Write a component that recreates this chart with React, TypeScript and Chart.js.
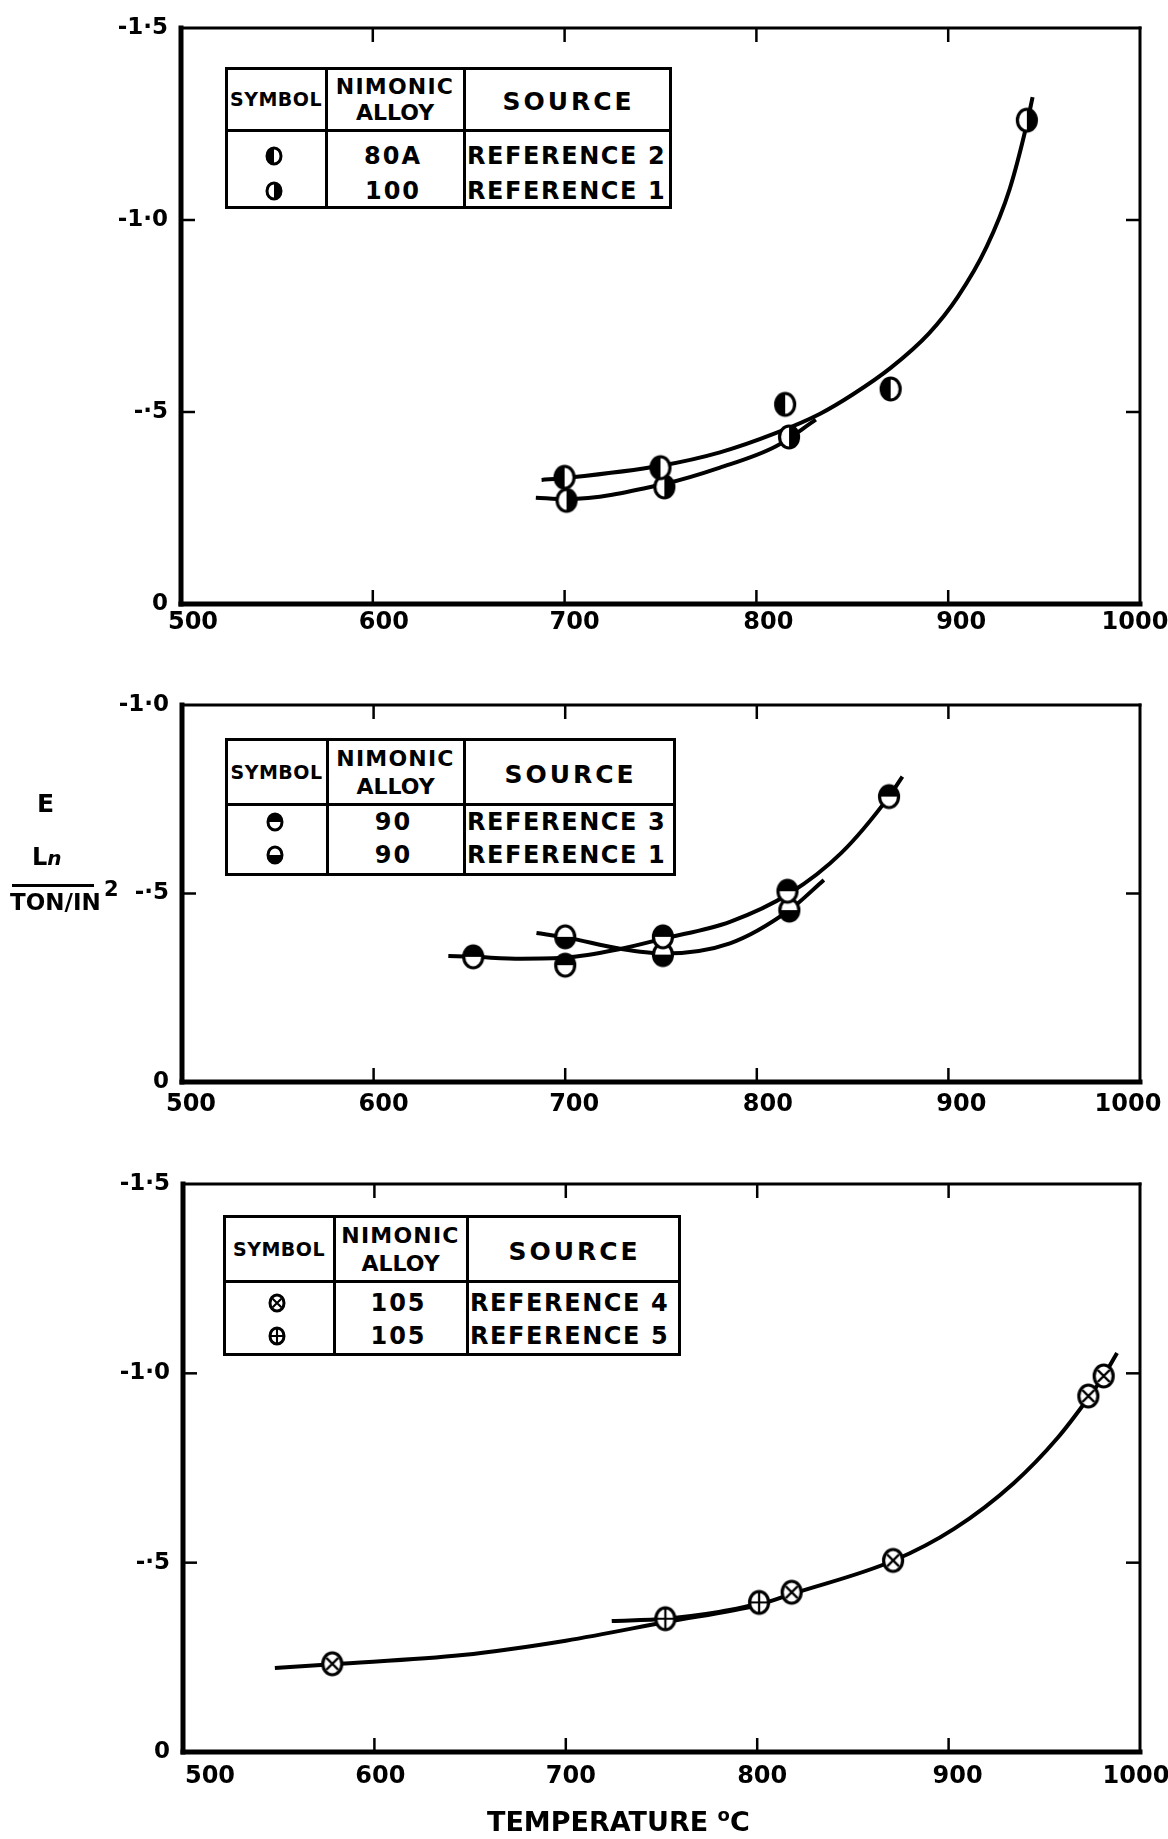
import React, { useEffect, useMemo, useRef } from 'react';
import { Chart, registerables } from 'chart.js';

Chart.register(...registerables);

const FONT = "'DejaVu Sans', 'Liberation Sans', sans-serif";

// ---------- shared axis values ----------
const xTickValues = [500, 600, 700, 800, 900, 1000];
const xTickLabels = ['500', '600', '700', '800', '900', '1000'];
const yTicks15 = [-1.5, -1.0, -0.5, 0];
const yLabels15 = ['-1·5', '-1·0', '-·5', '0'];
const yTicks10 = [-1.0, -0.5, 0];
const yLabels10 = ['-1·0', '-·5', '0'];

// ---------- panel 1 : Nimonic 80A / 100 ----------
const p1Ref2T = [700, 750, 815, 870];
const p1Ref2V = [-0.33, -0.355, -0.52, -0.56];
const p1Ref1T = [701, 752, 817, 941];
const p1Ref1V = [-0.27, -0.305, -0.435, -1.26];
const p1CurveAT = [688, 700, 750, 781, 810, 833, 850, 870, 890, 905, 920, 932, 941, 944];
const p1CurveAV = [-0.323, -0.328, -0.36, -0.395, -0.445, -0.495, -0.545, -0.615, -0.705, -0.8, -0.93, -1.08, -1.25, -1.32];
const p1CurveBT = [685, 701, 753, 781, 810, 831];
const p1CurveBV = [-0.277, -0.273, -0.314, -0.355, -0.41, -0.48];

// ---------- panel 2 : Nimonic 90 ----------
const p2Ref3T = [652, 700, 751, 816, 869];
const p2Ref3V = [-0.332, -0.31, -0.385, -0.506, -0.757];
const p2Ref1T = [700, 751, 817];
const p2Ref1V = [-0.385, -0.338, -0.456];
const p2CurveAT = [639, 652, 677, 701, 728, 751, 786, 817, 844, 869, 876];
const p2CurveAV = [-0.334, -0.332, -0.327, -0.33, -0.352, -0.38, -0.425, -0.5, -0.607, -0.757, -0.81];
const p2CurveBT = [685, 701, 728, 751, 786, 817, 835];
const p2CurveBV = [-0.395, -0.383, -0.354, -0.341, -0.368, -0.456, -0.536];

// ---------- panel 3 : Nimonic 105 ----------
const p3Ref4T = [578, 818, 871, 973, 981];
const p3Ref4V = [-0.233, -0.422, -0.506, -0.94, -0.993];
const p3Ref5T = [752, 801];
const p3Ref5V = [-0.352, -0.395];
const p3CurveAT = [548, 578, 646, 700, 753, 801, 818, 871, 903, 934, 957, 973, 981, 988];
const p3CurveAV = [-0.222, -0.232, -0.256, -0.294, -0.344, -0.389, -0.417, -0.505, -0.59, -0.71, -0.83, -0.935, -0.993, -1.054];
const p3CurveBT = [724, 752, 780, 800];
const p3CurveBV = [-0.346, -0.352, -0.37, -0.39];

// ---------- legend texts ----------
const legendHeader = ['SYMBOL', 'NIMONIC', 'ALLOY', 'SOURCE'];
const p1Alloys = ['80A', '100'];
const p1Sources = ['REFERENCE 2', 'REFERENCE 1'];
const p2Alloys = ['90', '90'];
const p2Sources = ['REFERENCE 3', 'REFERENCE 1'];
const p3Alloys = ['105', '105'];
const p3Sources = ['REFERENCE 4', 'REFERENCE 5'];

const xTitle = 'TEMPERATURE';
const yTitleTop = 'E';
const yTitleMid = 'Ln';
const yTitleBottom = 'TON/IN';

function pts(t: number[], v: number[]) {
  return t.map((x, i) => ({ x, y: v[i] }));
}

function makeSymbol(kind: string, size = 28, rx = 9.5, ry = 11, lw = 3.2): HTMLCanvasElement {
  const c = document.createElement('canvas');
  c.width = size;
  c.height = size;
  const g = c.getContext('2d')!;
  const cx = size / 2;
  const cy = size / 2;
  g.fillStyle = '#fff';
  g.beginPath();
  g.ellipse(cx, cy, rx, ry, 0, 0, Math.PI * 2);
  g.fill();
  g.fillStyle = '#000';
  const half = (a0: number, a1: number) => {
    g.beginPath();
    g.ellipse(cx, cy, rx, ry, 0, a0, a1);
    g.closePath();
    g.fill();
  };
  if (kind === 'left') half(Math.PI / 2, Math.PI * 1.5);
  if (kind === 'right') half(-Math.PI / 2, Math.PI / 2);
  if (kind === 'top') half(Math.PI, Math.PI * 2);
  if (kind === 'bottom') half(0, Math.PI);
  g.strokeStyle = '#000';
  g.lineWidth = lw;
  g.beginPath();
  g.ellipse(cx, cy, rx, ry, 0, 0, Math.PI * 2);
  g.stroke();
  g.lineWidth = Math.max(1.8, lw * 0.7);
  if (kind === 'cross') {
    const d = rx * 0.62;
    g.beginPath();
    g.moveTo(cx - d, cy - d);
    g.lineTo(cx + d, cy + d);
    g.moveTo(cx + d, cy - d);
    g.lineTo(cx - d, cy + d);
    g.stroke();
  }
  if (kind === 'plus') {
    g.beginPath();
    g.moveTo(cx - rx, cy);
    g.lineTo(cx + rx, cy);
    g.moveTo(cx, cy - ry);
    g.lineTo(cx, cy + ry);
    g.stroke();
  }
  return c;
}

const framePlugin = {
  id: 'frame',
  afterDraw(chart: any) {
    const { ctx, chartArea } = chart;
    const { left, right, top, bottom } = chartArea;
    const xs = chart.scales.x;
    const ys = chart.scales.y;
    const cfg = chart.options.plugins.frame || {};
    const line = (x1: number, y1: number, x2: number, y2: number) => {
      ctx.beginPath();
      ctx.moveTo(x1, y1);
      ctx.lineTo(x2, y2);
      ctx.stroke();
    };
    ctx.save();
    ctx.strokeStyle = '#000';
    ctx.lineCap = 'butt';
    ctx.lineWidth = 2.5;
    const L = 14;
    xs.ticks.forEach((t: any) => {
      const px = xs.getPixelForValue(t.value);
      if (px <= left + 2 || px >= right - 2) return;
      line(px, bottom, px, bottom - L);
      line(px, top, px, top + L);
    });
    ys.ticks.forEach((t: any) => {
      const py = ys.getPixelForValue(t.value);
      if (py <= top + 2 || py >= bottom - 2) return;
      line(left, py, left + L, py);
      line(right, py, right - L, py);
    });
    ctx.lineCap = 'square';
    ctx.lineWidth = 3;
    line(left, top, right, top);
    line(right, top, right, bottom);
    ctx.lineWidth = 5;
    line(left, top, left, bottom);
    line(left, bottom, right, bottom);

    // x tick labels (drawn from the x scale, nudged like the hand lettering)
    ctx.fillStyle = '#000';
    ctx.font = `bold 24px ${FONT}`;
    ctx.textAlign = 'center';
    ctx.textBaseline = 'middle';
    const shifts: number[] = cfg.labelShift || [];
    xTickValues.forEach((v, i) => {
      const px = xs.getPixelForValue(v) + (shifts[i] || 0);
      ctx.fillText(xTickLabels[i], px, bottom + (cfg.labelDy || 20));
    });
    ctx.restore();
  },
};

type PanelProps = {
  top: number;
  height: number;
  padTop: number;
  xAxisH: number;
  yAxisW: number;
  yMin: number;
  yTicks: number[];
  yLabels: string[];
  labelShift: number[];
  labelDy: number;
  build: () => any[];
};

function PanelChart(props: PanelProps) {
  const ref = useRef<HTMLCanvasElement>(null);
  useEffect(() => {
    const { padTop, xAxisH, yAxisW, yMin, yTicks, yLabels, build, labelShift, labelDy } = props;
    const chart = new Chart(ref.current!, {
      type: 'scatter',
      data: { datasets: build() },
      options: {
        animation: false,
        responsive: false,
        devicePixelRatio: 1,
        layout: { padding: { top: padTop, right: 28, bottom: 0, left: 0 } },
        plugins: {
          legend: { display: false },
          tooltip: { enabled: false },
          frame: { labelShift, labelDy },
        },
        scales: {
          x: {
            type: 'linear',
            min: 500,
            max: 1000,
            afterBuildTicks: (s: any) => {
              s.ticks = xTickValues.map((value) => ({ value }));
            },
            ticks: { display: false },
            grid: { display: false, drawTicks: false },
            border: { display: false },
            afterFit: (s: any) => {
              s.height = xAxisH;
              s.paddingLeft = 0;
              s.paddingRight = 0;
            },
          },
          y: {
            type: 'linear',
            min: yMin,
            max: 0,
            reverse: true,
            afterBuildTicks: (s: any) => {
              s.ticks = yTicks.map((value) => ({ value }));
            },
            ticks: {
              color: '#000',
              font: { family: FONT, size: 23, weight: 'bold' },
              padding: 13,
              autoSkip: false,
              callback: (_v: any, i: number) => yLabels[i],
            },
            grid: { display: false, drawTicks: false },
            border: { display: false },
            afterFit: (s: any) => {
              s.width = yAxisW;
              s.paddingTop = 0;
              s.paddingBottom = 0;
            },
          },
        },
      },
      plugins: [framePlugin],
    } as any);
    return () => chart.destroy();
  }, []);
  return (
    <canvas
      ref={ref}
      width={1168}
      height={props.height}
      style={{ position: 'absolute', left: 0, top: props.top, display: 'block' }}
    />
  );
}

const curveDs = (t: number[], v: number[]) => ({
  data: pts(t, v),
  showLine: true,
  borderColor: '#000',
  borderWidth: 4,
  pointRadius: 0,
  cubicInterpolationMode: 'monotone',
  fill: false,
});
const pointDs = (t: number[], v: number[], kind: string) => ({
  data: pts(t, v),
  showLine: false,
  pointStyle: makeSymbol(kind),
  pointRadius: 11,
});

type LegendProps = {
  left: number;
  top: number;
  width: number;
  height: number;
  c1: number;
  c2: number;
  sep: number;
  rowY: number[];
  syms: string[];
  alloys: string[];
  sources: string[];
};

function SymImg({ kind }: { kind: string }) {
  const src = useMemo(() => makeSymbol(kind, 22, 7, 8, 3).toDataURL(), [kind]);
  return <img src={src} width={22} height={22} style={{ display: 'block' }} alt="" />;
}

function LegendTable(p: LegendProps) {
  const abs = (s: any) => ({ position: 'absolute', ...s } as React.CSSProperties);
  const center = (x: number, y: number, extra: any = {}) =>
    abs({ left: x, top: y, transform: 'translate(-50%, -50%)', whiteSpace: 'nowrap', lineHeight: 1, ...extra });
  return (
    <div
      style={abs({
        left: p.left,
        top: p.top,
        width: p.width,
        height: p.height,
        border: '3px solid #000',
        boxSizing: 'border-box',
        background: '#fff',
        fontFamily: FONT,
        fontWeight: 'bold',
        color: '#000',
      })}
    >
      <div style={abs({ left: p.c1 - 3, top: 0, width: 2.5, height: '100%', background: '#000' })} />
      <div style={abs({ left: p.c2 - 3, top: 0, width: 2.5, height: '100%', background: '#000' })} />
      <div style={abs({ left: 0, top: p.sep - 3, width: '100%', height: 2.5, background: '#000' })} />
      <div style={center(p.c1 / 2 - 2, p.sep * 0.47, { fontSize: 19, letterSpacing: 0.5 })}>{legendHeader[0]}</div>
      <div style={center((p.c1 + p.c2) / 2 - 2, p.sep * 0.28, { fontSize: 22, letterSpacing: 1.2 })}>{legendHeader[1]}</div>
      <div style={center((p.c1 + p.c2) / 2 - 2, p.sep * 0.7, { fontSize: 22 })}>{legendHeader[2]}</div>
      <div style={center((p.c2 + p.width) / 2 - 2, p.sep * 0.5, { fontSize: 25, letterSpacing: 3 })}>{legendHeader[3]}</div>
      {p.rowY.map((y, i) => (
        <React.Fragment key={i}>
          <div style={center(p.c1 / 2 - 4, y)}>
            <SymImg kind={p.syms[i]} />
          </div>
          <div style={center((p.c1 + p.c2) / 2 - 4, y, { fontSize: 24, letterSpacing: 2 })}>{p.alloys[i]}</div>
          <div
            style={abs({
              left: p.c2 + 1,
              top: y,
              transform: 'translateY(-50%)',
              fontSize: 24,
              letterSpacing: 1.6,
              whiteSpace: 'nowrap',
              lineHeight: 1,
            })}
          >
            {p.sources[i]}
          </div>
        </React.Fragment>
      ))}
    </div>
  );
}

export default function App() {
  const build1 = () => [
    pointDs(p1Ref2T, p1Ref2V, 'left'),
    pointDs(p1Ref1T, p1Ref1V, 'right'),
    curveDs(p1CurveAT, p1CurveAV),
    curveDs(p1CurveBT, p1CurveBV),
  ];
  const build2 = () => [
    pointDs(p2Ref3T, p2Ref3V, 'top'),
    pointDs(p2Ref1T, p2Ref1V, 'bottom'),
    curveDs(p2CurveAT, p2CurveAV),
    curveDs(p2CurveBT, p2CurveBV),
  ];
  const build3 = () => [
    pointDs(p3Ref4T, p3Ref4V, 'cross'),
    pointDs(p3Ref5T, p3Ref5V, 'plus'),
    curveDs(p3CurveAT, p3CurveAV),
    curveDs(p3CurveBT, p3CurveBV),
  ];
  const txt = (s: any) =>
    ({ position: 'absolute', fontFamily: FONT, fontWeight: 'bold', color: '#000', lineHeight: 1, whiteSpace: 'nowrap', ...s } as React.CSSProperties);
  return (
    <div style={{ position: 'absolute', left: 0, top: 0, width: 1168, height: 1839, background: '#fff', overflow: 'hidden' }}>
      <PanelChart top={0} height={660} padTop={28} xAxisH={56} yAxisW={181} yMin={-1.5} yTicks={yTicks15} yLabels={yLabels15}
        labelShift={[12, 11, 10, 12, 13, -5]} labelDy={19} build={build1} />
      <PanelChart top={660} height={480} padTop={45} xAxisH={58} yAxisW={182} yMin={-1.0} yTicks={yTicks10} yLabels={yLabels10}
        labelShift={[9, 10, 9, 11, 13, -12]} labelDy={23} build={build2} />
      <PanelChart top={1140} height={699} padTop={44} xAxisH={87} yAxisW={183} yMin={-1.5} yTicks={yTicks15} yLabels={yLabels15}
        labelShift={[27, 6, 5, 5, 9, -4]} labelDy={25} build={build3} />

      <LegendTable left={225} top={67} width={447} height={142} c1={100} c2={238} sep={62} rowY={[86, 121]} syms={['left', 'right']} alloys={p1Alloys} sources={p1Sources} />
      <LegendTable left={225} top={738} width={451} height={138} c1={101} c2={238} sep={65} rowY={[81, 114]} syms={['top', 'bottom']} alloys={p2Alloys} sources={p2Sources} />
      <LegendTable left={223} top={1215} width={458} height={141} c1={110} c2={243} sep={65} rowY={[85, 118]} syms={['cross', 'plus']} alloys={p3Alloys} sources={p3Sources} />

      <div style={txt({ left: 37, top: 791, fontSize: 25 })}>{yTitleTop}</div>
      <div style={txt({ left: 32, top: 845, fontSize: 24 })}>
        L<span style={{ fontStyle: 'italic', fontSize: 20 }}>n</span>
      </div>
      <div style={txt({ left: 12, top: 884, width: 82, height: 3, background: '#000' })} />
      <div style={txt({ left: 10, top: 891, fontSize: 23 })}>{yTitleBottom}</div>
      <div style={txt({ left: 104, top: 879, fontSize: 21 })}>2</div>

      <div style={txt({ left: 487, top: 1808, fontSize: 27 })}>
        {xTitle} <span style={{ fontSize: 18, position: 'relative', top: -10 }}>o</span>C
      </div>
    </div>
  );
}
